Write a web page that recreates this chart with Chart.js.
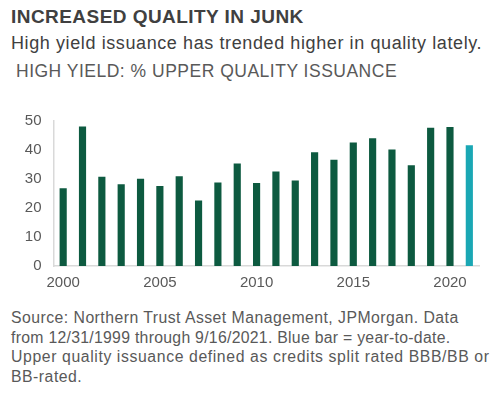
<!DOCTYPE html>
<html>
<head>
<meta charset="utf-8">
<script src="https://cdn.jsdelivr.net/npm/chart.js@4"></script>
<style>
  html, body { margin: 0; padding: 0; background: #fff; }
  body { width: 500px; height: 395px; position: relative; overflow: hidden;
         font-family: 'Liberation Sans', Arial, sans-serif; }
  .txt { position: absolute; white-space: nowrap; }
  #titre { left: 11px; top: 6.6px; font-size: 19px; line-height: 19px; font-weight: bold; color: #404040; letter-spacing: 0.45px; }
  #sous { left: 11px; top: 33.8px; font-size: 18px; line-height: 18px; color: #404040; letter-spacing: 0.6px; }
  #graf-titre { left: 16px; top: 63.2px; font-size: 17.5px; line-height: 17.5px; color: #595959; letter-spacing: 0.5px; }
  #fonte { left: 11px; top: 308.3px; font-size: 15.8px; line-height: 19.4px; color: #595959; letter-spacing: 0.5px; }
  #fonte .l1 { letter-spacing: 0.46px; }
  #fonte .l2 { letter-spacing: 0.28px; }
  #fonte .l3 { letter-spacing: 0.6px; }
  #box { position: absolute; left: 0; top: 100px; width: 500px; height: 200px; }
</style>
</head>
<body>
<div class="txt" id="titre">INCREASED QUALITY IN JUNK</div>
<div class="txt" id="sous">High yield issuance has trended higher in quality lately.</div>
<div class="txt" id="graf-titre">HIGH YIELD: % UPPER QUALITY ISSUANCE</div>
<div id="box"><canvas id="qualidadeChart"></canvas></div>
<div class="txt" id="fonte"><span class="l1">Source: Northern Trust Asset Management, JPMorgan. Data</span><br><span class="l2">from 12/31/1999 through 9/16/2021. Blue bar = year-to-date.</span><br><span class="l3">Upper quality issuance defined as credits split rated BBB/BB or</span><br>BB-rated.</div>

<script>
// dados
const anos = ['2000', '2001', '2002', '2003', '2004', '2005', '2006', '2007', '2008', '2009', '2010',
              '2011', '2012', '2013', '2014', '2015', '2016', '2017', '2018', '2019', '2020', '2021'];
const pctQualidade = [26.7, 48.0, 30.7, 28.1, 30.0, 27.5, 30.8, 22.5, 28.7, 35.2, 28.5,
                      32.5, 29.4, 39.1, 36.5, 42.5, 43.9, 40.1, 34.6, 47.6, 47.8, 41.5];
const anosRotulo = ['2000', '2005', '2010', '2015', '2020'];
const ticksY = [0, 10, 20, 30, 40, 50];

const VERDE = '#0d5a40';
const AZUL = '#1aa7b4';
const CINZA_TEXTO = '#595959';
const CINZA_LINHA = '#d9d9d9';

// ultimo ano (parcial) fica azul
const cores = anos.map((a, i) => i === anos.length - 1 ? AZUL : VERDE);

const ctx = document.getElementById('qualidadeChart').getContext('2d');
new Chart(ctx, {
    type: 'bar',
    data: {
        labels: anos,
        datasets: [{
            data: pctQualidade,
            backgroundColor: cores,
            barThickness: 6.5
        }]
    },
    options: {
        responsive: true,
        maintainAspectRatio: false,
        animation: false,
        layout: { autoPadding: false, padding: { top: 18, right: 21, bottom: 0, left: 0 } },
        plugins: { legend: { display: false }, tooltip: { enabled: false } },
        scales: {
            x: {
                grid: { display: false, drawTicks: false },
                border: { color: CINZA_LINHA, width: 1.5 },
                ticks: {
                    color: CINZA_TEXTO,
                    font: { family: "'Liberation Sans', Arial, sans-serif", size: 15 },
                    autoSkip: false, maxRotation: 0, padding: 8,
                    callback: function (v) {
                        const a = this.getLabelForValue(v);
                        return anosRotulo.includes(a) ? a : '';
                    }
                },
                afterFit: s => { s.height = 34; }
            },
            y: {
                min: 0, max: 50,
                grid: { display: false, drawTicks: false },
                border: { color: CINZA_LINHA, width: 1.5 },
                afterBuildTicks: s => { s.ticks = ticksY.map(v => ({ value: v })); },
                ticks: {
                    color: CINZA_TEXTO,
                    font: { family: "'Liberation Sans', Arial, sans-serif", size: 15 },
                    padding: 12
                },
                afterFit: s => { s.width = 53.5; }
            }
        }
    }
});
</script>
</body>
</html>
